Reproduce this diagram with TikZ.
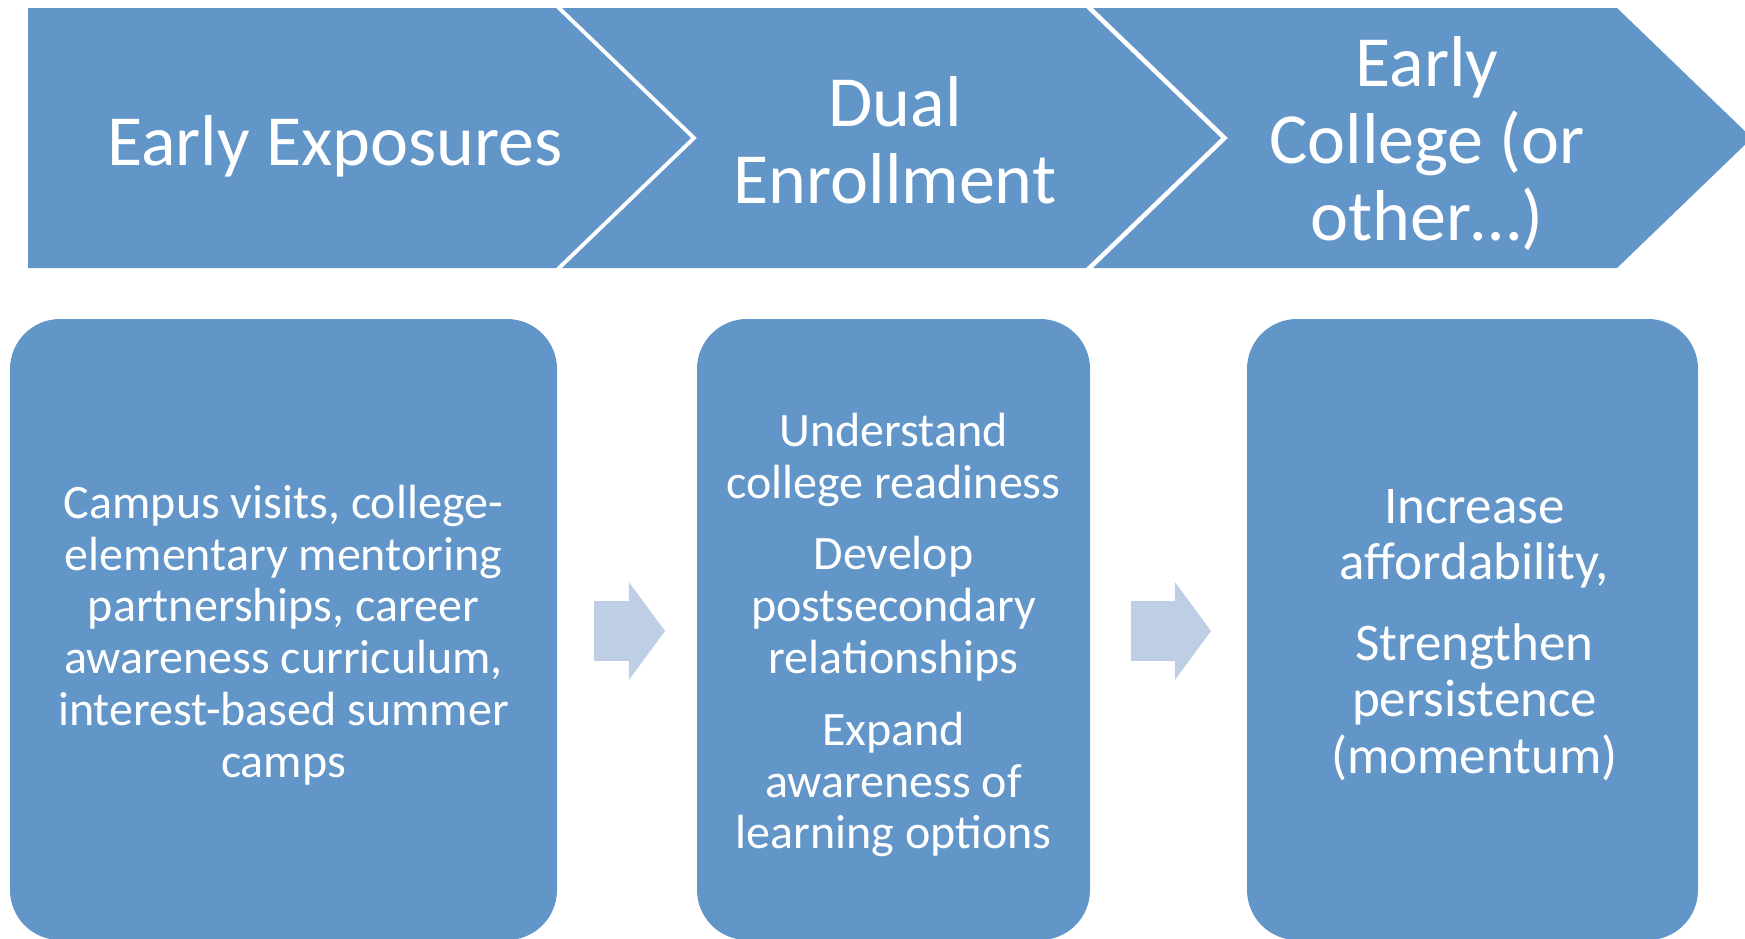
\documentclass[tikz,border=0pt]{standalone}
\usepackage{fontspec}
\setmainfont{Carlito}
\usepackage{xcolor}
\usepackage{tikz}
\usetikzlibrary{shapes}
\usetikzlibrary{shapes.arrows}
\usetikzlibrary{positioning}
\definecolor{bleu}{RGB}{98,150,200}
\definecolor{bleuclair}{RGB}{190,206,228}
\tikzstyle{etape}=[fill=bleu]
\tikzstyle{titre}=[text=white,align=center,inner sep=0pt,
        font=\fontsize{36}{38.5}\selectfont]
\tikzstyle{boite}=[rectangle,rounded corners=25pt,fill=bleu,inner sep=0pt,
        minimum height=310.5pt]
\tikzstyle{texte}=[text=white,align=center,inner sep=0pt,
        font=\fontsize{24}{25.9}\selectfont]
\tikzstyle{fleche}=[single arrow,fill=bleuclair,inner xsep=0pt,inner ysep=14.75pt,
        minimum width=48.5pt,single arrow head extend=9.5pt,
        single arrow tip angle=107]

\begin{document}
\begin{tikzpicture}[x=0.5pt,y=-0.5pt]
\clip (0,0) rectangle (1745,938);
%Bandeau
\fill[etape] (28,8) -- (556,8) -- (691,138) -- (556,268) -- (28,268) -- cycle;
\fill[etape] (562,8) -- (1086,8) -- (1221,138) -- (1086,268) -- (562,268) -- (697,138) -- cycle;
\fill[etape] (1093,8) -- (1617,8) -- (1752,138) -- (1617,268) -- (1093,268) -- (1228,138) -- cycle;
\node[titre] (t1) at (335,146) {Early Exposures};
\node[titre] (t2) at (895,140) {Dual\\Enrollment};
\node[titre] (t3) at (1427,143) {Early\\College (or\\other…)};
%Boites
\node[boite,minimum width=273.5pt] (b1) at (283.5,629.5) {};
\node[boite,minimum width=196.5pt] (b2) at (893.5,629.5) {};
\node[boite,minimum width=225.5pt] (b3) at (1472.5,629.5) {};
\node[texte] (c1) at ([yshift=-2.75pt]b1.center)
  {Campus visits, college-\\elementary mentoring\\partnerships, career\\awareness curriculum,\\interest-based summer\\camps};
\node[texte] (c2) at ([yshift=-2.75pt]b2.center)
  {Understand\\college readiness\\[10pt]Develop\\postsecondary\\relationships\\[10pt]Expand\\awareness of\\learning options};
\node[texte,font=\fontsize{26.5}{28.2}\selectfont] (c3) at ([xshift=1pt,yshift=-2.75pt]b3.center)
  {Increase\\affordability,\\[12pt]Strengthen\\persistence\\(momentum)};
%Fleches
\node[fleche,minimum height=35.5pt] (f1) at (618.5,631) {};
\node[fleche,minimum height=40pt] (f2) at (1160,631) {};
\end{tikzpicture}
\end{document}
